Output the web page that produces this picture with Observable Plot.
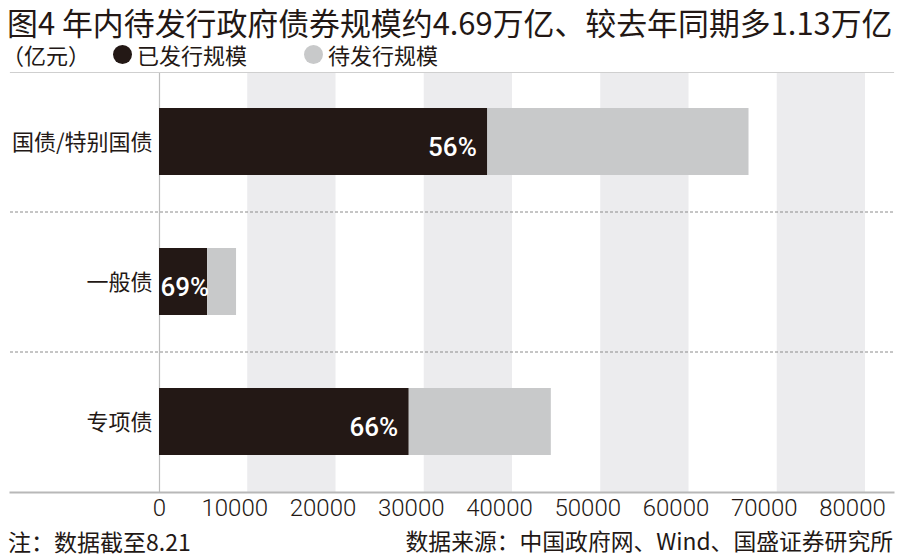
<!DOCTYPE html>
<html>
<head>
<meta charset="utf-8">
<script src="https://cdn.jsdelivr.net/npm/d3@7"></script>
<script src="https://cdn.jsdelivr.net/npm/@observablehq/plot@0.6"></script>
<style>
  html, body { margin: 0; padding: 0; background: #fff; }
  body { width: 900px; height: 559px; position: relative; overflow: hidden;
         font-family: "Noto Sans CJK SC", "Noto Sans", sans-serif; color: #231815; }
  #title { position: absolute; left: 7px; top: 5px; font-size: 30.9px; line-height: 34px; white-space: nowrap; }
  #legend { position: absolute; left: 2px; top: 41px; font-size: 22px; line-height: 26px; white-space: nowrap; display: flex; align-items: center; }
  #legend .item { display: flex; align-items: center; }
  #legend .dot { width: 19px; height: 19px; border-radius: 50%; display: inline-block; margin-right: 5px; }
  #chart { position: absolute; left: 0; top: 70px; }
  #note { position: absolute; left: 8px; top: 528px; font-size: 23px; line-height: 26px; white-space: nowrap; }
  #source { position: absolute; right: 7px; top: 528px; font-size: 22.8px; line-height: 26px; white-space: nowrap; }
</style>
</head>
<body>
<div id="title">图4 年内待发行政府债券规模约4.69万亿、较去年同期多1.13万亿</div>
<div id="legend"></div>
<div id="chart"></div>
<div id="note">注：数据截至8.21</div>
<div id="source">数据来源：中国政府网、Wind、国盛证券研究所</div>
<script>
// ---- data ----
const unitLabel = "（亿元）";
const seriesNames = ["已发行规模", "待发行规模"];
const seriesColors = ["#231815", "#c8c9ca"];
const categories = ["国债/特别国债", "一般债", "专项债"];
const issued = [37200, 5450, 28300];
const pending = [29600, 3280, 16100];
const pctLabels = ["56%", "69%", "66%"];
const xTicks = [0, 10000, 20000, 30000, 40000, 50000, 60000, 70000, 80000];

// ---- legend ----
const legend = document.getElementById("legend");
const unit = document.createElement("span");
unit.textContent = unitLabel;
unit.style.marginRight = "23px";
legend.appendChild(unit);
seriesNames.forEach((name, i) => {
  const item = document.createElement("span");
  item.className = "item";
  item.style.marginRight = "57px";
  const dot = document.createElement("span");
  dot.className = "dot";
  dot.style.background = seriesColors[i];
  item.appendChild(dot);
  const t = document.createElement("span");
  t.textContent = name;
  item.appendChild(t);
  legend.appendChild(item);
});

// ---- table ----
const rows = [];
categories.forEach((c, i) => {
  rows.push({category: c, series: seriesNames[0], value: issued[i]});
  rows.push({category: c, series: seriesNames[1], value: pending[i]});
});
const labels = categories.map((c, i) => ({category: c, issued: issued[i], label: pctLabels[i]}));
const bands = xTicks
  .map((t, i) => ({x1: t, x2: xTicks[i + 1], i}))
  .filter(d => d.i % 2 === 1 && d.x2 !== undefined);

const W = 900, H = 455, MT = 2, MB = 33;
const step = (H - MT - MB) / categories.length;
const ink = "#231815";

const chart = Plot.plot({
  width: W,
  height: H,
  marginTop: MT,
  marginBottom: MB,
  marginLeft: 10,
  marginRight: 7,
  style: {fontFamily: "'Noto Sans CJK SC', sans-serif", color: ink, background: "transparent"},
  x: {domain: [0, 80000], range: [159, 865], axis: null},
  y: {domain: categories, paddingInner: 0.52, paddingOuter: 0.26, axis: null},
  color: {domain: seriesNames, range: seriesColors},
  marks: [
    Plot.rect(bands, {x1: "x1", x2: "x2", fill: "#ececee"}),
    Plot.ruleY(categories.slice(1), {dy: -step / 2, stroke: "#8c8c8c", strokeWidth: 1, strokeDasharray: "3,2"}),
    Plot.ruleX([0], {stroke: "#bdbdbd", strokeWidth: 1.2}),
    Plot.barX(rows, {x: "value", y: "category", fill: "series"}),
    Plot.text(labels.filter(d => d.issued >= 15000), {
      x: "issued", y: "category", text: "label", textAnchor: "end", dx: -11, dy: 6,
      fill: "#fff", fontSize: 26, fontWeight: 500, fontFamily: "Roboto, sans-serif"
    }),
    Plot.text(labels.filter(d => d.issued < 15000), {
      x: d => 0, y: "category", text: "label", textAnchor: "start", dx: 1, dy: 6,
      fill: "#fff", fontSize: 26, fontWeight: 500, fontFamily: "Roboto, sans-serif"
    }),
    Plot.text(categories, {
      x: d => 0, y: d => d, text: d => d, textAnchor: "end", dx: -7, dy: 1,
      fill: ink, fontSize: 22
    }),
    Plot.frame({anchor: "top", stroke: "#cfcfcf", strokeWidth: 1.2}),
    Plot.frame({anchor: "bottom", stroke: "#b8b8b8", strokeWidth: 2}),
    Plot.axisX(xTicks.slice(0, 1), {
      tickSize: 0, tickPadding: 6, fontSize: 24, fill: ink,
      fontFamily: "Roboto, sans-serif", fontWeight: 300, tickFormat: d => String(d)
    }),
    Plot.axisX(xTicks.slice(1), {
      tickSize: 0, tickPadding: 6, fontSize: 24, fill: ink, dx: -13,
      fontFamily: "Roboto, sans-serif", fontWeight: 300, tickFormat: d => String(d)
    })
  ]
});
document.getElementById("chart").appendChild(chart);
</script>
</body>
</html>
